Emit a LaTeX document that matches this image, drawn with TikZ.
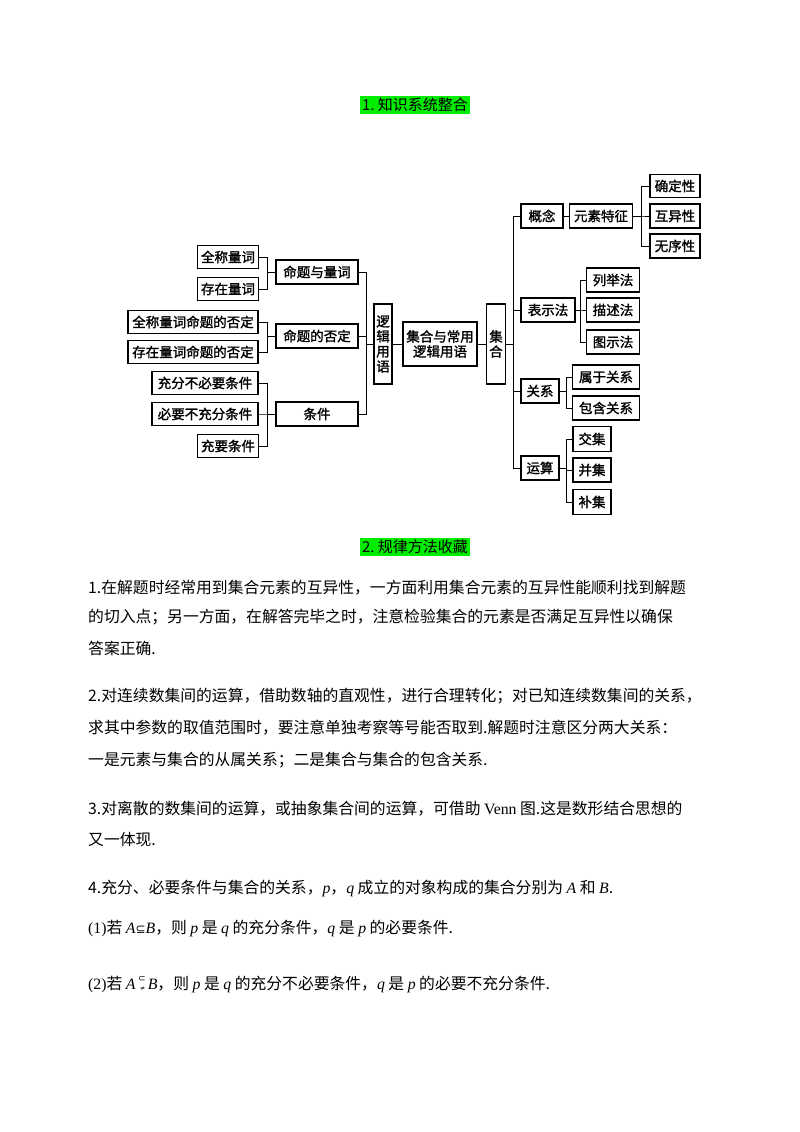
\documentclass[tikz,border=0pt]{standalone}
\usepackage{fontspec}
\setmainfont{Liberation Serif}
\newfontfamily\cjk{Noto Sans CJK SC}
\newfontfamily\cjkb[FakeBold=1.5]{Noto Sans CJK SC}
\newfontfamily\dv{DejaVu Sans}
\newcommand{\li}[1]{{\rmfamily\itshape #1}}
\begin{document}
\begin{tikzpicture}[x=1pt,y=-1pt,
  bx/.style={draw,line width=1.2pt,inner sep=0pt,align=center,font=\cjkb\fontsize{13.5}{15}\selectfont},
  ln/.style={line width=0.9pt},
  para/.style={anchor=west,inner sep=0pt,font=\cjk\fontsize{15.8}{18}\selectfont},
  ttl/.style={fill=green!90!black!70!green,inner sep=2pt,font=\cjk\fontsize{15}{17}\selectfont}]
\useasboundingbox (0,0) rectangle (800,1132);
\fill[white] (0,0) rectangle (800,1132);
\node[ttl] (t1) at (415,105) {1.\ 知识系统整合};
% left
\node[bx,minimum width=61pt,minimum height=23pt] (a1) at (228,257) {全称量词};
\node[bx,minimum width=61pt,minimum height=23pt] (a2) at (228,289) {存在量词};
\node[bx,minimum width=82pt,minimum height=24pt] (b1) at (317,272) {命题与量词};
\node[bx,minimum width=130pt,minimum height=23pt] (a3) at (193,322) {全称量词命题的否定};
\node[bx,minimum width=130pt,minimum height=23pt] (a4) at (193,352) {存在量词命题的否定};
\node[bx,minimum width=82pt,minimum height=24pt] (b2) at (317,336) {命题的否定};
\node[bx,minimum width=106pt,minimum height=23pt] (a5) at (205,383) {充分不必要条件};
\node[bx,minimum width=106pt,minimum height=23pt] (a6) at (205,414) {必要不充分条件};
\node[bx,minimum width=61pt,minimum height=23pt] (a7) at (228,446) {充要条件};
\node[bx,minimum width=82pt,minimum height=24pt] (b3) at (317,414) {条件};
\node[bx,minimum width=18pt,minimum height=80pt] (lj) at (383,344) {逻\\辑\\用\\语};
\node[bx,minimum width=74pt,minimum height=44pt] (root) at (440,344) {集合与常用\\逻辑用语};
\node[bx,minimum width=19pt,minimum height=80pt] (jh) at (496,344) {集\\合};
% right
\node[bx,minimum width=42pt,minimum height=24pt] (c1) at (542,216) {概念};
\node[bx,minimum width=63pt,minimum height=24pt] (d1) at (601,216) {元素特征};
\node[bx,minimum width=50pt,minimum height=23pt] (e1) at (675,186) {确定性};
\node[bx,minimum width=50pt,minimum height=24pt] (e2) at (675,216) {互异性};
\node[bx,minimum width=50pt,minimum height=24pt] (e3) at (675,246) {无序性};
\node[bx,minimum width=54pt,minimum height=24pt] (c2) at (548,310) {表示法};
\node[bx,minimum width=53pt,minimum height=24pt] (f1) at (613,280) {列举法};
\node[bx,minimum width=53pt,minimum height=24pt] (f2) at (613,310) {描述法};
\node[bx,minimum width=53pt,minimum height=24pt] (f3) at (613,342) {图示法};
\node[bx,minimum width=38pt,minimum height=24pt] (c3) at (540,391) {关系};
\node[bx,minimum width=67pt,minimum height=24pt] (g1) at (606,377) {属于关系};
\node[bx,minimum width=67pt,minimum height=24pt] (g2) at (606,408) {包含关系};
\node[bx,minimum width=38pt,minimum height=24pt] (c4) at (540,468) {运算};
\node[bx,minimum width=38pt,minimum height=25pt] (h1) at (592,439) {交集};
\node[bx,minimum width=38pt,minimum height=24pt] (h2) at (592,470) {并集};
\node[bx,minimum width=38pt,minimum height=25pt] (h3) at (592,502) {补集};
% connectors left
\foreach \s/\t in {a1/b1,a2/b1} \draw[ln] (\s.east) -- (267,0 |- \s.east) |- (\t.west);
\foreach \s/\t in {a3/b2,a4/b2} \draw[ln] (\s.east) -- (267,0 |- \s.east) |- (\t.west);
\foreach \s/\t in {a5/b3,a6/b3,a7/b3} \draw[ln] (\s.east) -- (267,0 |- \s.east) |- (\t.west);
\foreach \s in {b1,b2,b3} \draw[ln] (\s.east) -- (366,0 |- \s.east) |- (lj.west);
\draw[ln] (lj.east) -- (root.west);
\draw[ln] (root.east) -- (jh.west);
\foreach \t in {c1,c2,c3,c4} \draw[ln] (jh.east) -- (513,0 |- jh.east) |- (\t.west);
\draw[ln] (c1.east) -- (d1.west);
\foreach \t in {e1,e2,e3} \draw[ln] (d1.east) -- (641,0 |- d1.east) |- (\t.west);
\foreach \t in {f1,f2,f3} \draw[ln] (c2.east) -- (580,0 |- c2.east) |- (\t.west);
\foreach \t in {g1,g2} \draw[ln] (c3.east) -- (566,0 |- c3.east) |- (\t.west);
\foreach \t in {h1,h2,h3} \draw[ln] (c4.east) -- (566,0 |- c4.east) |- (\t.west);
% text
\node[ttl] (t2) at (415,547) {2.\ 规律方法收藏};
\node[para] (p1) at (88,588) {1.在解题时经常用到集合元素的互异性，一方面利用集合元素的互异性能顺利找到解题};
\node[para] (p2) at (88,617) {的切入点；另一方面，在解答完毕之时，注意检验集合的元素是否满足互异性以确保};
\node[para] (p3) at (88,648) {答案正确.};
\node[para] (p4) at (88,696) {2.对连续数集间的运算，借助数轴的直观性，进行合理转化；对已知连续数集间的关系，};
\node[para] (p5) at (88,728) {求其中参数的取值范围时，要注意单独考察等号能否取到.解题时注意区分两大关系：};
\node[para] (p6) at (88,760) {一是元素与集合的从属关系；二是集合与集合的包含关系.};
\node[para] (p7) at (88,809) {3.对离散的数集间的运算，或抽象集合间的运算，可借助 {\rmfamily Venn} 图.这是数形结合思想的};
\node[para] (p8) at (88,840) {又一体现.};
\node[para] (p9) at (88,888) {4.充分、必要条件与集合的关系，\li{p}，\li{q} 成立的对象构成的集合分别为 \li{A} 和 \li{B}.};
\node[para] (p10) at (88,929) {{\rmfamily(1)}若 \li{A}{\dv\fontsize{12}{14}\selectfont ⊆}\li{B}，则 \li{p} 是 \li{q} 的充分条件，\li{q} 是 \li{p} 的必要条件.};
\node[para] (p11) at (88,985) {{\rmfamily(2)}若 \li{A}\,\rlap{\raisebox{8pt}{\dv\fontsize{9}{10}\selectfont ⊂}}\raisebox{-1pt}{\dv\fontsize{6}{7}\selectfont\ ≠}\,\li{B}，则 \li{p} 是 \li{q} 的充分不必要条件，\li{q} 是 \li{p} 的必要不充分条件.};
\end{tikzpicture}
\end{document}
